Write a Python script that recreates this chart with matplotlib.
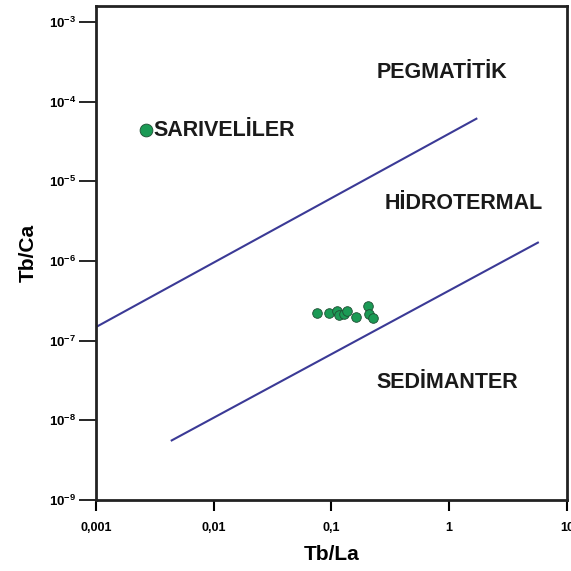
import numpy as np
import matplotlib
matplotlib.use('Agg')
import matplotlib.pyplot as plt
from matplotlib.ticker import FixedLocator, NullLocator

plt.rcParams['font.family'] = ['Liberation Sans', 'DejaVu Sans']
plt.rcParams['mathtext.fontset'] = 'custom'
plt.rcParams['mathtext.rm'] = 'Liberation Sans'
plt.rcParams['mathtext.bf'] = 'Liberation Sans:bold'

# sample cluster (Tb/La, Tb/Ca)
tb_la = [0.0756, 0.0948, 0.112, 0.115, 0.127, 0.136, 0.160, 0.204, 0.207, 0.226]
tb_ca = [2.21e-7, 2.24e-7, 2.34e-7, 2.07e-7, 2.13e-7, 2.39e-7, 2.01e-7, 2.76e-7, 2.17e-7, 1.94e-7]

# legend point
legend_x = [0.00267]
legend_y = [4.4e-5]

# field boundary lines
upper_x = [0.001, 1.7]
upper_y = [1.48e-7, 6.1e-5]
lower_x = [0.0044, 5.66]
lower_y = [5.6e-9, 1.7e-6]

x_ticks = [0.001, 0.01, 0.1, 1, 10]
x_labels = ['0,001', '0,01', '0,1', '1', '10']
y_ticks = [1e-3, 1e-4, 1e-5, 1e-6, 1e-7, 1e-8, 1e-9]
y_labels = [r'$\mathbf{10^{-%d}}$' % n for n in range(3, 10)]

fig = plt.figure(figsize=(5.71, 5.71), dpi=100)
ax = fig.add_axes([0.168, 0.1243, 0.825, 0.8652])
ax.set_xscale('log')
ax.set_yscale('log')
ax.set_xlim(0.001, 10)
ax.set_ylim(1e-9, 10 ** -2.8)

line_color = '#3b3a96'
ax.plot(upper_x, upper_y, color=line_color, lw=1.5)
ax.plot(lower_x, lower_y, color=line_color, lw=1.5)

green = '#1b9a55'
ax.scatter(tb_la, tb_ca, s=48, color=green, edgecolor='#1e4d33', linewidth=0.6, zorder=3)
ax.scatter(legend_x, legend_y, s=85, color=green, edgecolor='#1e4d33', linewidth=0.6, zorder=3)

txt = dict(fontsize=15.5, fontweight='bold', color='#1a1a1a', va='center')
ax.text(0.0031, 4.4e-5, 'SARIVELİLER', ha='left', **txt)
ax.text(0.86, 10 ** -3.63, 'PEGMATİTİK', ha='center', **txt)
ax.text(1.32, 10 ** -5.28, 'HİDROTERMAL', ha='center', **txt)
ax.text(0.96, 10 ** -7.52, 'SEDİMANTER', ha='center', **txt)

ax.xaxis.set_major_locator(FixedLocator(x_ticks))
ax.xaxis.set_minor_locator(NullLocator())
ax.set_xticklabels(x_labels, fontsize=9, fontweight='bold')
ax.yaxis.set_major_locator(FixedLocator(y_ticks))
ax.yaxis.set_minor_locator(NullLocator())
ax.set_yticklabels(y_labels, fontsize=9.5)
ax.tick_params(axis='x', direction='out', length=8, width=1.5, pad=8)
ax.tick_params(axis='y', direction='out', length=12, width=1.2, pad=2)

for s in ax.spines.values():
    s.set_linewidth(2)
    s.set_color('#222222')

ax.set_xlabel('Tb/La', fontsize=15, fontweight='bold', labelpad=8)
ax.set_ylabel('Tb/Ca', fontsize=15, fontweight='bold', labelpad=8)

fig.savefig('out.png', dpi=100)
